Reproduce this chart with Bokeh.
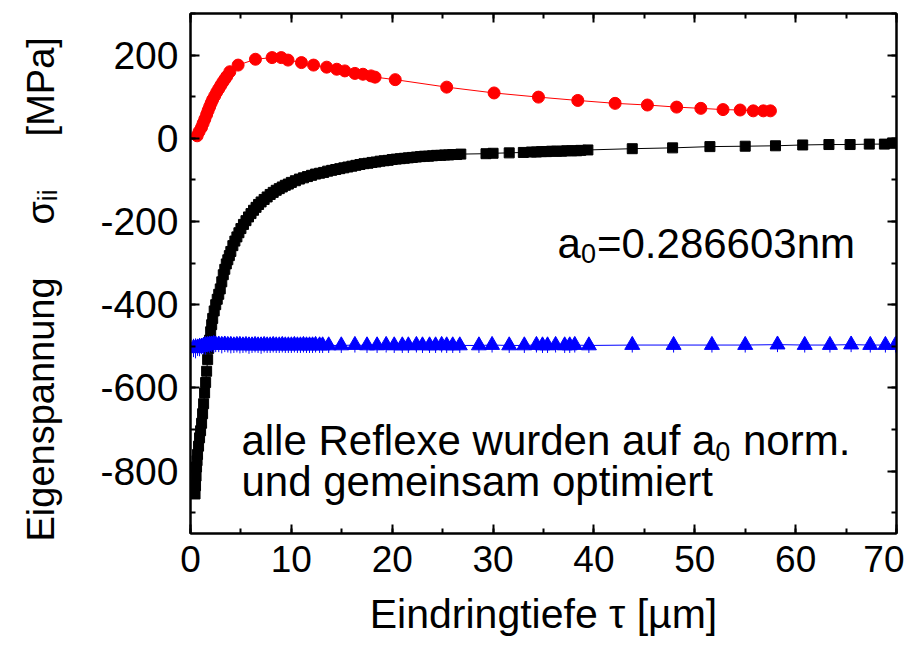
from bokeh.plotting import figure
from bokeh.models import Range1d, LinearAxis, SingleIntervalTicker, Label, CustomJSTickFormatter
from bokeh.embed import file_html
from bokeh.resources import INLINE

# ---------------- data ----------------
red_x = [0.66, 0.85, 1.09, 1.25, 1.42, 1.6, 1.75, 1.9, 2.05, 2.2, 2.4, 2.6, 2.8, 3.0, 3.2, 3.4,
         3.6, 3.9, 4.72, 6.44, 8.09, 9.0, 9.67, 11.0, 12.2, 13.5, 14.5, 15.3, 16.3, 17.1, 17.9,
         18.3, 20.3, 25.4, 30.1, 34.5, 38.4, 42.1, 45.3, 48.2, 50.6, 52.8, 54.5, 55.8, 56.8, 57.5]
red_y = [6, 16, 26, 36, 46, 57, 67, 76, 85, 93, 102, 111, 119, 127, 135, 142,
         149, 160, 176, 190, 194, 194, 188, 182, 176, 171, 166, 162, 156, 154, 150,
         147, 141, 123, 109, 99, 91, 84, 80, 75, 72, 69, 68, 66, 66, 66]

black_x = [0.45, 0.5, 0.55, 0.6, 0.65, 0.7, 0.8, 0.9, 1.0, 1.1, 1.2, 1.3, 1.4, 1.5, 1.6, 1.7,
           1.8, 1.9, 2.0, 2.1, 2.2, 2.35, 2.5, 2.65, 2.8, 2.95, 3.1, 3.25, 3.4, 3.55, 3.7, 3.85,
           4.0, 4.2, 4.4, 4.6, 4.8, 5.0, 5.25, 5.5, 5.75, 6.0, 6.25, 6.5, 6.75, 7.0, 7.3, 7.6,
           7.9, 8.2, 8.5, 8.8, 9.1, 9.4, 9.7, 10.0, 10.4, 10.8, 11.2, 11.6, 12.0, 12.4, 12.8,
           13.2, 13.6, 14.0, 14.4, 14.8, 15.2, 15.6, 16.0, 16.4, 16.8, 17.2, 17.6, 18.0, 18.4,
           18.8, 19.2, 19.6, 20.0, 20.4, 20.8, 21.2, 21.6, 22.0, 22.4, 22.8, 23.2, 23.6, 24.0,
           24.4, 24.8, 25.2, 25.6, 26.0, 26.4, 26.8, 29.3, 30.0, 31.6, 33.0, 33.8, 34.3, 34.8,
           35.3, 35.8, 36.3, 36.8, 37.3, 37.8, 38.3, 38.7, 39.4, 43.8, 47.8, 51.5, 55.0, 58.0,
           60.7, 63.3, 65.4, 67.3, 68.8, 69.6]
black_y = [-855, -835, -812, -790, -775, -760, -740, -720, -703, -685, -662, -638, -612, -587,
           -560, -532, -505, -485, -465, -448, -433, -415, -400, -387, -375, -362, -345, -328,
           -315, -302, -292, -282, -272, -258, -247, -237, -227, -217, -207, -198, -189, -181,
           -173, -166, -159, -153, -147, -141, -135, -130, -125, -121, -117, -113, -110, -106,
           -102, -98, -95, -92, -89, -86, -84, -82, -79, -77, -75, -73, -71, -69, -67, -65, -63,
           -61, -60, -58, -57, -55, -54, -53, -51, -50, -49, -48, -47, -46, -45, -44, -43, -43,
           -42, -41, -41, -40, -40, -39, -39, -38, -37, -36, -35, -34, -33, -33, -32, -32, -31,
           -31, -31, -30, -30, -30, -29, -28, -25, -23, -20, -19, -18, -16, -15, -15, -14, -14,
           -12]

blue_x = [0.3, 0.5, 0.7, 0.9, 1.1, 1.3, 1.5, 1.7, 1.9, 2.1, 2.3, 2.5, 2.8, 3.1, 3.4, 3.7, 4.0,
          4.3, 4.6, 4.9, 5.2, 5.5, 5.8, 6.1, 6.4, 6.7, 7.0, 7.3, 7.6, 7.9, 8.2, 8.5, 8.8, 9.1,
          9.4, 9.7, 10.0, 10.3, 10.6, 10.9, 11.2, 11.5, 11.8, 12.1, 12.4, 12.8, 13.1, 13.7,
          14.95, 16.3, 17.5, 18.5, 19.4, 20.2, 21.0, 21.6, 22.4, 23.0, 23.7, 24.3, 24.9, 25.4,
          26.0, 26.7, 28.6, 29.9, 31.6, 33.1, 34.3, 34.9, 35.4, 36.2, 37.1, 37.6, 38.1, 39.5,
          43.8, 47.9, 51.7, 55.0, 58.2, 60.9, 63.4, 65.5, 67.4, 68.9, 69.9]
blue_y = [-504, -505, -503, -502, -501, -499, -498, -497, -496, -496, -495, -496, -496, -497,
          -496, -497, -497, -498, -497, -497, -498, -497, -498, -498, -497, -498, -498, -497,
          -498, -498, -497, -498, -498, -497, -498, -498, -498, -497, -498, -498, -497, -498,
          -498, -498, -497, -498, -498, -498, -498, -497, -498, -498, -497, -498, -498, -498,
          -497, -498, -498, -498, -497, -498, -498, -498, -498, -497, -498, -498, -497, -498,
          -498, -497, -498, -498, -497, -498, -497, -497, -497, -497, -496, -497, -497, -496,
          -497, -497, -497]
blue_err = [22, 24, 20, 22, 18, 20, 22, 18, 20, 18, 20, 18, 18, 20, 18, 18, 20, 18, 18, 20,
            18, 18, 20, 18, 18, 18, 20, 18, 18, 18, 18, 18, 18, 18, 18, 18, 18, 18, 18, 18,
            18, 18, 18, 18, 18, 18, 18, 18, 18, 18, 18, 18, 18, 18, 18, 18, 18, 18, 18, 18,
            18, 18, 18, 18, 18, 18, 18, 18, 18, 18, 18, 18, 18, 18, 18, 18, 18, 18, 18, 18,
            18, 18, 18, 18, 18, 18, 18]

x_ticks_interval = 10
y_ticks_interval = 200

FONT = "Liberation Sans"
NB = "\u00a0"

p = figure(width=904, height=639, output_backend="svg", toolbar_location=None,
           x_range=Range1d(0, 70), y_range=Range1d(-950, 300),
           min_border_left=190, min_border_right=8, min_border_top=13, min_border_bottom=106,
           x_axis_label="Eindringtiefe \u03c4 [\u00b5m]",
           y_axis_label="Eigenspannung" + NB * 5 + "\u03c3\u1d62\u1d62" + NB * 5 + "[MPa]" + NB * 3)
p.grid.visible = False
p.outline_line_color = "black"
p.outline_line_width = 2
p.background_fill_color = "white"
p.border_fill_color = "white"

xt = SingleIntervalTicker(interval=x_ticks_interval, num_minor_ticks=2)
yt = SingleIntervalTicker(interval=y_ticks_interval, num_minor_ticks=2)
p.xaxis.ticker = xt
p.yaxis.ticker = yt
plain = CustomJSTickFormatter(code="return tick.toFixed(0)")
p.xaxis.formatter = plain
p.yaxis.formatter = plain

def style_axis(ax):
    ax.axis_line_width = 2
    ax.axis_line_color = "black"
    ax.major_tick_in = 9
    ax.major_tick_out = 0
    ax.minor_tick_in = 5
    ax.minor_tick_out = 0
    ax.major_tick_line_width = 2
    ax.minor_tick_line_width = 2
    ax.major_tick_line_color = "black"
    ax.minor_tick_line_color = "black"
    ax.major_label_text_font = FONT
    ax.major_label_text_font_size = "37px"
    ax.major_label_text_color = "black"
    ax.axis_label_text_font = FONT
    ax.axis_label_text_font_size = "41px"
    ax.axis_label_text_font_style = "normal"
    ax.axis_label_text_color = "black"

for ax in p.xaxis:
    style_axis(ax)
    ax.major_label_standoff = 12
    ax.axis_label_standoff = 16
for ax in p.yaxis:
    style_axis(ax)
    ax.major_label_standoff = 12
    ax.major_label_text_font_size = "39px"
    ax.axis_label_standoff = 35
    ax.axis_label_text_font_size = "38px"

blank = CustomJSTickFormatter(code="return ''")
top = LinearAxis(ticker=xt, formatter=blank, major_label_standoff=0)
right = LinearAxis(ticker=yt, formatter=blank, major_label_standoff=0)
style_axis(top)
style_axis(right)
p.add_layout(top, "above")
p.add_layout(right, "right")

# series
p.line(black_x, black_y, line_color="black", line_width=1)
p.scatter(black_x, black_y, marker="square", size=10, fill_color="black", line_color="black")

blue_lo = [y - e for y, e in zip(blue_y, blue_err)]
blue_hi = [y + e for y, e in zip(blue_y, blue_err)]
p.line(blue_x, blue_y, line_color="blue", line_width=1)
p.segment(blue_x, blue_lo, blue_x, blue_hi, line_color="blue", line_width=1)
p.scatter(blue_x, blue_y, marker="triangle", size=15, fill_color="blue", line_color="blue")

p.line(red_x, red_y, line_color="red", line_width=1)
p.scatter(red_x, red_y, marker="circle", size=12, fill_color="red", line_color="red")

# annotations
def lab(x, y, text, size, xo=0):
    p.add_layout(Label(x=x, y=y, text=text, x_offset=xo, text_font=FONT,
                       text_font_size=f"{size}px", text_color="black",
                       text_baseline="alphabetic"))

big = 42
sub = 27
lab(36.4, -252, "a", big)
lab(36.4, -278, "0", sub, 0.556 * big)
lab(36.4, -252, "=0.286603nm", big, 0.556 * big + 0.556 * sub + 1)

lab(5.05, -727, "alle Reflexe wurden auf a", big)
lab(5.05, -753, "0", sub, 11.283 * big)
lab(5.05, -727, "norm.", big, 11.283 * big + 0.556 * sub + 0.278 * big + 1)
lab(5.05, -825, "und gemeinsam optimiert", big)

open("out.html", "w").write(file_html(p, INLINE))
